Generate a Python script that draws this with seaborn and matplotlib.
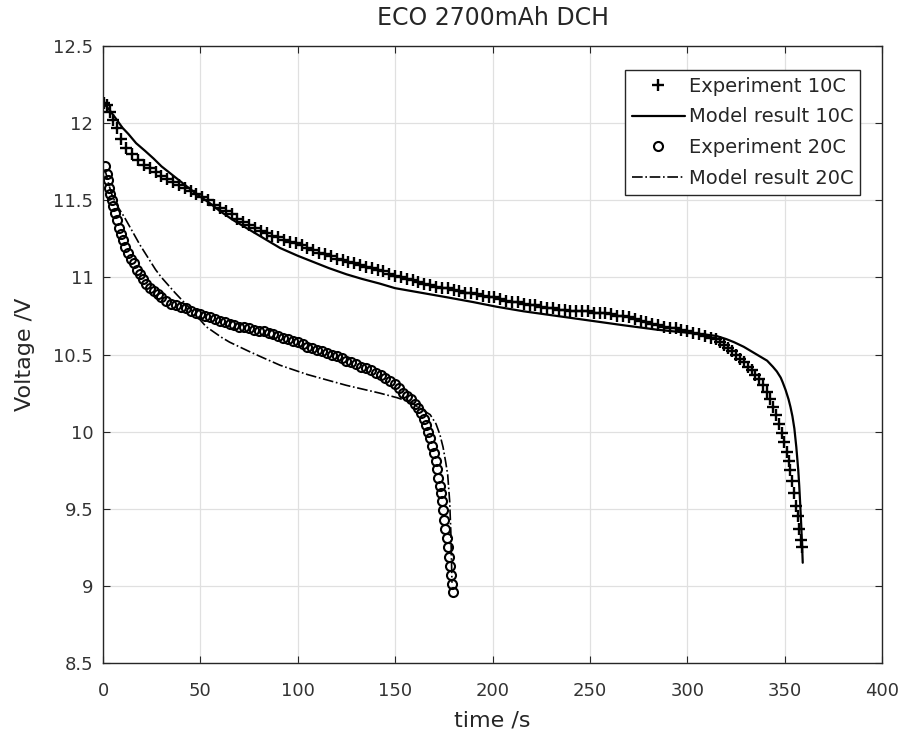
import matplotlib
matplotlib.use("Agg")
import matplotlib.pyplot as plt
import seaborn as sns
import pandas as pd

# ---------------- data ----------------
t_exp10 = [0.5, 2, 3.5, 5, 7, 9, 12, 15, 18, 21, 24, 27, 30, 33, 36, 39, 42, 45, 48, 51,
           54, 57, 60, 63, 66, 69, 72, 75, 78, 81, 84, 87, 90, 93, 96, 99, 102, 105, 108, 111,
           114, 117, 120, 123, 126, 129, 132, 135, 138, 141, 144, 147, 150, 153, 156, 159, 162, 165, 168, 171,
           174, 177, 180, 183, 186, 189, 192, 195, 198, 201, 204, 207, 210, 213, 216, 219, 222, 225, 228, 231,
           234, 237, 240, 243, 246, 249, 252, 255, 258, 261, 264, 267, 270, 273, 276, 279, 282, 285, 288, 291,
           294, 297, 300, 303, 306, 309, 312, 315, 317, 319, 321, 323, 325, 327, 329, 331, 333, 335, 337, 339,
           341, 342.5, 344, 345.5, 347, 348.5, 349.8, 351, 352, 353, 354, 355, 356, 356.8, 357.5, 358.2, 358.8]
v_exp10 = [12.13, 12.12, 12.07, 12.02, 11.97, 11.90, 11.84, 11.80, 11.76, 11.73, 11.71, 11.68, 11.66, 11.64, 11.62, 11.60, 11.58, 11.56, 11.54, 11.52,
           11.50, 11.47, 11.45, 11.43, 11.41, 11.38, 11.36, 11.34, 11.32, 11.30, 11.29, 11.27, 11.26, 11.24, 11.23, 11.22, 11.21, 11.19, 11.18, 11.16,
           11.15, 11.14, 11.12, 11.11, 11.10, 11.09, 11.08, 11.07, 11.06, 11.05, 11.04, 11.02, 11.01, 11.00, 10.99, 10.98, 10.97, 10.96, 10.95, 10.94,
           10.93, 10.93, 10.92, 10.91, 10.90, 10.90, 10.89, 10.88, 10.87, 10.87, 10.86, 10.85, 10.84, 10.84, 10.83, 10.82, 10.82, 10.81, 10.80, 10.80,
           10.79, 10.79, 10.78, 10.78, 10.78, 10.78, 10.77, 10.77, 10.77, 10.76, 10.75, 10.75, 10.74, 10.73, 10.72, 10.71, 10.70, 10.69, 10.68, 10.67,
           10.67, 10.66, 10.65, 10.64, 10.63, 10.62, 10.61, 10.60, 10.58, 10.56, 10.54, 10.52, 10.50, 10.47, 10.45, 10.42, 10.40, 10.37, 10.34, 10.30,
           10.26, 10.21, 10.16, 10.11, 10.05, 9.99, 9.93, 9.87, 9.81, 9.75, 9.68, 9.60, 9.52, 9.45, 9.37, 9.30, 9.25]

t_mod10 = [1, 3, 6, 10, 13, 17, 21.6, 26, 30, 35, 40, 47, 55, 60, 67, 75, 83, 91, 100, 108,
           116, 125, 133, 142, 150, 159, 168, 177, 190, 202, 216, 233, 250, 267, 285, 301, 309, 315, 320, 324,
           329, 333, 337, 341, 344, 346, 348, 349, 350.5, 352, 353, 354, 355, 356, 357, 357.5, 358, 358.5, 359, 359.3]
v_mod10 = [12.12, 12.09, 12.04, 11.97, 11.93, 11.87, 11.82, 11.77, 11.72, 11.67, 11.62, 11.55, 11.48, 11.43, 11.37, 11.31, 11.25, 11.19, 11.14, 11.10,
           11.06, 11.02, 10.99, 10.96, 10.93, 10.91, 10.89, 10.87, 10.84, 10.81, 10.78, 10.75, 10.72, 10.69, 10.66, 10.64, 10.63, 10.62, 10.60, 10.58,
           10.55, 10.52, 10.49, 10.46, 10.42, 10.39, 10.35, 10.32, 10.27, 10.21, 10.16, 10.10, 10.02, 9.90, 9.75, 9.65, 9.53, 9.40, 9.25, 9.15]

t_exp20 = [1, 1.8, 2.6, 3.2, 3.8, 4.5, 5.2, 6, 7, 8, 9, 10.2, 11.5, 13, 14.5, 16, 17.5, 19, 20.5, 22,
           24, 26, 28, 30, 32.5, 35, 37.5, 40, 42.5, 45, 47.5, 50, 52.5, 55, 57.5, 60, 62.5, 65, 67.5, 70,
           72.5, 75, 77.5, 80, 82.5, 85, 87.5, 90, 92.5, 95, 97.5, 100, 102.5, 105, 107.5, 110, 112.5, 115, 117.5, 120,
           122.5, 125, 127.5, 130, 132.5, 135, 137.5, 140, 142.5, 145, 147.5, 150, 152, 154, 156, 158, 160, 162, 163.5, 165,
           166, 167, 168, 169, 170, 170.8, 171.5, 172.2, 172.8, 173.4, 174, 174.6, 175.2, 175.8, 176.4, 177, 177.5, 178,
           178.5, 179, 179.5]
v_exp20 = [11.72, 11.67, 11.63, 11.58, 11.54, 11.50, 11.46, 11.42, 11.37, 11.32, 11.28, 11.24, 11.20, 11.16, 11.12, 11.09, 11.05, 11.02, 10.99, 10.96,
           10.93, 10.91, 10.89, 10.87, 10.85, 10.83, 10.82, 10.81, 10.80, 10.78, 10.77, 10.76, 10.75, 10.74, 10.73, 10.72, 10.71, 10.70, 10.69, 10.68,
           10.68, 10.67, 10.66, 10.65, 10.65, 10.64, 10.63, 10.62, 10.61, 10.60, 10.59, 10.58, 10.57, 10.55, 10.54, 10.53, 10.52, 10.51, 10.50, 10.49,
           10.48, 10.46, 10.45, 10.44, 10.42, 10.41, 10.40, 10.38, 10.37, 10.35, 10.33, 10.31, 10.28, 10.25, 10.23, 10.21, 10.18, 10.15, 10.12, 10.08,
           10.04, 10.00, 9.96, 9.91, 9.86, 9.81, 9.76, 9.70, 9.65, 9.60, 9.55, 9.49, 9.43, 9.37, 9.31, 9.25, 9.19, 9.13,
           9.07, 9.01, 8.96]

t_mod20 = [1, 3, 5, 8, 11, 15, 19, 23, 27, 30, 37, 46, 53, 61, 65, 75, 82, 91, 105, 125,
           142, 151, 158, 163, 168, 171, 173, 174.6, 176, 177, 178, 178.6, 179.2]
v_mod20 = [11.70, 11.60, 11.52, 11.45, 11.39, 11.30, 11.21, 11.13, 11.05, 11.00, 10.90, 10.78, 10.68, 10.61, 10.58, 10.52, 10.48, 10.43, 10.37, 10.30,
           10.25, 10.22, 10.19, 10.15, 10.11, 10.05, 9.98, 9.90, 9.80, 9.72, 9.55, 9.35, 9.02]

title = "ECO 2700mAh DCH"
xlabel = "time /s"
ylabel = "Voltage /V"
x_ticks = [0, 50, 100, 150, 200, 250, 300, 350, 400]
y_ticks = [8.5, 9, 9.5, 10, 10.5, 11, 11.5, 12, 12.5]
y_ticklabels = ["8.5", "9", "9.5", "10", "10.5", "11", "11.5", "12", "12.5"]

# ---------------- style ----------------
sns.set_style("ticks")
plt.rcParams["font.family"] = ["DejaVu Sans"]
dark = "#262626"
plt.rcParams.update({
    "axes.edgecolor": dark,
    "xtick.color": dark,
    "ytick.color": dark,
    "text.color": dark,
    "axes.labelcolor": dark,
})

fig = plt.figure(figsize=(9.05, 7.40), dpi=100)
ax = fig.add_axes([103 / 905, 1 - 663 / 740, 779 / 905, 617 / 740])

df_e10 = pd.DataFrame({"t": t_exp10, "v": v_exp10})
df_m10 = pd.DataFrame({"t": t_mod10, "v": v_mod10})
df_e20 = pd.DataFrame({"t": t_exp20, "v": v_exp20})
df_m20 = pd.DataFrame({"t": t_mod20, "v": v_mod20})

sns.lineplot(data=df_e10, x="t", y="v", ax=ax, estimator=None, sort=False,
             linestyle="none", marker="+", markersize=9, markeredgewidth=1.7,
             markeredgecolor="black", color="black", label="Experiment 10C")
sns.lineplot(data=df_m10, x="t", y="v", ax=ax, estimator=None, sort=False,
             color="black", linewidth=1.6, label="Model result 10C")
sns.lineplot(data=df_e20, x="t", y="v", ax=ax, estimator=None, sort=False,
             linestyle="none", marker="o", markersize=6.5, markeredgewidth=1.5,
             markerfacecolor="none", markeredgecolor="black",
             color="black", label="Experiment 20C")
sns.lineplot(data=df_m20, x="t", y="v", ax=ax, estimator=None, sort=False,
             color="black", linewidth=1.2, linestyle="-.", label="Model result 20C")

ax.set_xlim(0, 400)
ax.set_ylim(8.5, 12.5)
ax.set_xticks(x_ticks)
ax.set_yticks(y_ticks)
ax.set_yticklabels(y_ticklabels)
ax.grid(True, color="#e0e0e0", linewidth=0.9)
ax.set_axisbelow(True)
for s in ax.spines.values():
    s.set_linewidth(1.0)
    s.set_visible(True)
ax.tick_params(direction="in", top=True, right=True, length=5, width=0.8,
               labelsize=13, labelcolor="#333333")
ax.tick_params(axis="x", pad=14)
ax.tick_params(axis="y", pad=7)

ax.set_title(title, fontsize=17, pad=15)
ax.set_xlabel(xlabel, fontsize=16, labelpad=7)
ax.set_ylabel(ylabel, fontsize=16, labelpad=13)

leg = ax.legend(loc="upper right", bbox_to_anchor=(1 - 22 / 779, 1 - 24 / 617),
                borderaxespad=0, fontsize=14, frameon=True, fancybox=False,
                framealpha=1, edgecolor=dark, handlelength=2.7, handletextpad=0.2,
                labelspacing=0.6, borderpad=0.35)
leg.get_frame().set_linewidth(1.0)

fig.savefig("out.png", dpi=100)
